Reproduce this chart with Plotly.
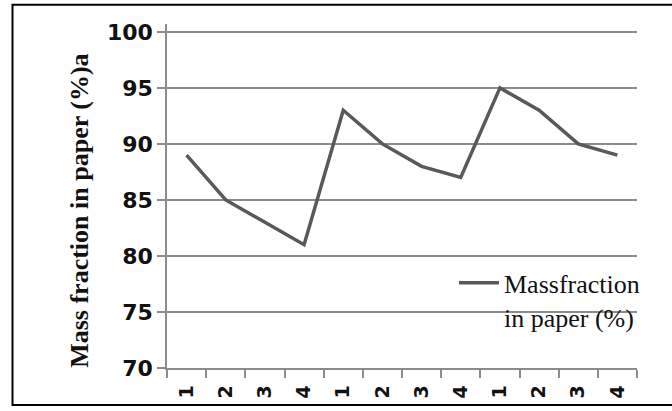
import plotly.graph_objects as go

# Data
tick_labels = ["1", "2", "3", "4", "1", "2", "3", "4", "1", "2", "3", "4"]
mass_fraction = [89, 85, 83, 81, 93, 90, 88, 87, 95, 93, 90, 89]
series_name = "Massfraction<br>in paper (%)"
y_title = "Mass fraction in paper (%)a"
y_min, y_max, y_step = 70, 100, 5

x_pos = list(range(len(mass_fraction)))

fig = go.Figure()
fig.add_trace(go.Scatter(
    x=x_pos, y=mass_fraction, mode="lines", name=series_name,
    line=dict(color="#595959", width=3.5),
    showlegend=True,
))

W, H = 672, 411
L, R, T, B = 167, 35, 24, 39
pw, ph = W - L - R, H - T - B
grid_col = "#8c8c8c"

fig.update_layout(
    width=W, height=H,
    margin=dict(l=L, r=R, t=T, b=B),
    paper_bgcolor="white", plot_bgcolor="rgba(0,0,0,0)",
    showlegend=True,
    legend=dict(
        x=(454 - L) / pw, y=(372 - 262) / ph, xanchor="left", yanchor="top",
        bgcolor="rgba(0,0,0,0)", valign="top",
        font=dict(family="Liberation Serif", size=26, color="#111"),
        itemwidth=40,
    ),
    xaxis=dict(
        range=[-0.5, len(mass_fraction) - 0.5],
        tickmode="array", tickvals=x_pos, ticktext=tick_labels,
        tickangle=-90, ticks="", showgrid=False,
        showline=True, linecolor=grid_col, linewidth=1.5,
        tickfont=dict(family="DejaVu Sans", size=19, color="#111", weight="bold"),
        ticklabelstandoff=8,
        minor=dict(tickmode="linear", tick0=-0.5, dtick=1, ticks="outside",
                   ticklen=8, tickcolor=grid_col, tickwidth=1.5, showgrid=False),
        zeroline=False, fixedrange=True,
    ),
    yaxis=dict(
        range=[y_min, y_max + 0.7], dtick=y_step, tick0=y_min,
        showgrid=True, gridcolor=grid_col, gridwidth=1.5,
        ticks="outside", ticklen=8, tickcolor=grid_col, tickwidth=1.5,
        showline=True, linecolor=grid_col, linewidth=1.5, mirror=False,
        tickfont=dict(family="DejaVu Sans", size=22, color="#111", weight="bold"),
        zeroline=False,
    ),
    shapes=[
        dict(
            type="rect", xref="paper", yref="paper",
            x0=(12.5 - L) / pw, x1=(675 - L) / pw,
            y0=(372 - 409.5) / ph, y1=1 + (T - 4.5) / ph,
            line=dict(color="black", width=2), fillcolor="rgba(0,0,0,0)", layer="below",
        ),
        dict(
            type="line", xref="paper", yref="y", x0=0, x1=1, y0=y_max, y1=y_max,
            line=dict(color=grid_col, width=1.5), layer="above",
        ),
    ],
    annotations=[dict(
        text=y_title, xref="paper", yref="paper",
        x=(80 - L) / pw, y=(372 - 213) / ph, showarrow=False, textangle=-90,
        font=dict(family="Liberation Serif", size=26, color="#111", weight="bold"),
        xanchor="center", yanchor="middle",
    )],
)

fig.write_html(
    "out.html", config={"displayModeBar": False},
    post_script="document.body.style.margin='0';document.body.style.overflow='hidden';",
)
